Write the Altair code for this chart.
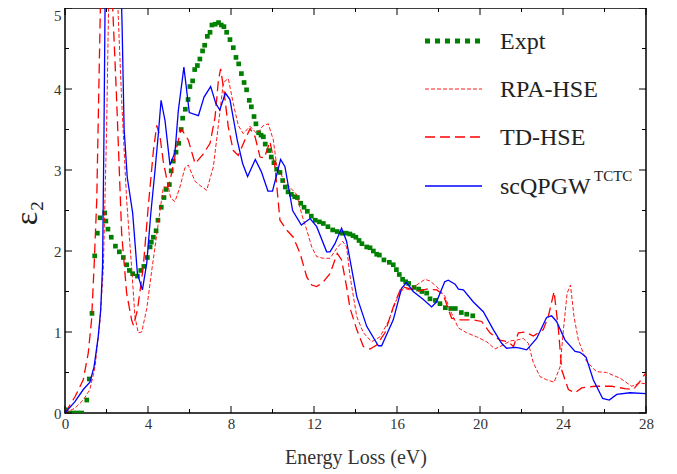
import altair as alt
import pandas as pd

# ---------------- data ----------------
expt_e = [0, 0.2, 0.4, 0.6, 0.8, 1.05, 1.17, 1.3, 1.43, 1.56, 1.69, 1.91, 1.97, 2.07, 2.23, 2.43, 2.62, 2.81,
          2.97, 3.1, 3.26, 3.49, 3.65, 3.8, 3.97, 4.1, 4.16, 4.26, 4.39, 4.48, 4.64, 4.77, 4.87, 5.03, 5.12,
          5.22, 5.35, 5.48, 5.6, 5.67, 5.8, 5.93, 6.02, 6.15, 6.25, 6.38, 6.5, 6.63, 6.73, 6.86, 6.99, 7.08,
          7.24, 7.4, 7.53, 7.66, 7.79, 7.95, 8.11, 8.24, 8.37, 8.5, 8.63, 8.75, 8.88, 8.98, 9.11, 9.2, 9.33,
          9.45, 9.56, 9.65, 9.82, 9.94, 10.07, 10.2, 10.36, 10.49, 10.62, 10.75, 10.91, 11.07, 11.2, 11.36,
          11.52, 11.68, 11.87, 12.06, 12.26, 12.45, 12.67, 12.9, 13.12, 13.35, 13.55, 13.73, 13.88, 14.02,
          14.17, 14.31, 14.54, 14.7, 14.86, 15.02, 15.15, 15.37, 15.63, 15.82, 15.97, 16.11, 16.27, 16.42,
          16.56, 16.82, 17.04, 17.2, 17.43, 17.59, 17.85, 18.07, 18.33, 18.59, 18.81, 19.1, 19.36, 19.65]
expt_v = [0.04, 0.0, 0.0, 0.0, 0.0, 0.16, 0.42, 1.23, 1.94, 2.22, 2.41, 2.47, 2.37, 2.27, 2.17, 2.06, 1.99, 1.92,
          1.83, 1.76, 1.72, 1.69, 1.76, 1.81, 1.92, 2.05, 2.11, 2.17, 2.25, 2.38, 2.54, 2.66, 2.76, 2.82, 2.99,
          3.11, 3.22, 3.33, 3.5, 3.64, 3.75, 3.87, 4.03, 4.1, 4.24, 4.29, 4.37, 4.47, 4.54, 4.65, 4.7, 4.79,
          4.8, 4.82, 4.79, 4.77, 4.7, 4.61, 4.51, 4.39, 4.31, 4.19, 4.08, 3.99, 3.86, 3.78, 3.66, 3.57, 3.46,
          3.43, 3.41, 3.32, 3.24, 3.16, 3.09, 3.01, 2.97, 2.87, 2.79, 2.73, 2.7, 2.67, 2.66, 2.59,
          2.54, 2.49, 2.43, 2.38, 2.36, 2.34, 2.3, 2.26, 2.24, 2.22, 2.22, 2.21, 2.19, 2.17,
          2.13, 2.09, 2.05, 2.04, 2.0, 1.96, 1.95, 1.89, 1.86, 1.83, 1.77, 1.71, 1.65, 1.62,
          1.6, 1.55, 1.53, 1.5, 1.48, 1.41, 1.39, 1.35, 1.3, 1.29, 1.29, 1.24, 1.22, 1.2]

rpa_e = [0, 0.48, 0.88, 1.2, 1.45, 1.69, 1.85, 2.0, 2.1, 2.25, 2.4, 2.55, 2.73, 2.97, 3.21, 3.37, 3.53, 3.7,
         3.94, 4.18, 4.42, 4.58, 4.74, 4.98, 5.1, 5.3, 5.54, 5.78, 5.94, 6.27, 6.5, 6.83, 7.15, 7.39, 7.63,
         7.87, 8.11, 8.35, 8.59, 8.92, 9.24, 9.56, 9.8, 10.04, 10.2, 10.6, 11.16, 11.4, 11.65, 11.89, 12.13,
         12.45, 12.77, 13.09, 13.38, 13.57, 13.73, 14.06, 14.38, 14.78, 15.18, 15.58, 15.98, 16.31, 16.63,
         16.95, 17.35, 17.59, 17.91, 18.31, 18.63, 18.96, 19.36, 19.84, 20.32, 20.72, 21.12, 21.45, 21.77,
         22.09, 22.33, 22.57, 22.89, 23.21, 23.57, 23.86, 24.02, 24.2, 24.36, 24.53, 24.74, 25.13, 25.61,
         26.1, 26.75, 27.31, 27.71, 28.0]
rpa_v = [0, 0.06, 0.16, 0.29, 0.57, 1.15, 1.8, 3.45, 5.0, 6.0, 5.8, 5.0, 3.86, 2.63, 1.8, 1.19, 0.99, 1.0,
         1.29, 1.76, 2.2, 2.5, 2.79, 2.79, 2.65, 2.61, 2.79, 3.03, 3.06, 2.86, 2.81, 2.75, 3.04, 3.55, 4.08,
         4.13, 3.82, 3.55, 3.45, 3.54, 3.45, 3.55, 3.57, 3.37, 3.06, 2.85, 2.7, 2.46, 2.26, 2.05, 1.93,
         1.91, 1.91, 2.03, 2.12, 2.05, 1.7, 1.19, 0.99, 0.88, 0.94, 1.13, 1.4, 1.54, 1.52,
         1.58, 1.65, 1.63, 1.56, 1.44, 1.23, 1.05, 0.99, 0.94, 0.88, 0.79, 0.84, 0.89, 0.9,
         0.92, 0.86, 0.62, 0.45, 0.41, 0.38, 0.57, 1.03, 1.48, 1.58, 1.19, 0.9, 0.64, 0.51,
         0.5, 0.43, 0.33, 0.37, 0.36]

td_e = [0, 0.48, 0.88, 1.12, 1.28, 1.4, 1.53, 1.65, 1.75, 1.95, 2.15, 2.3, 2.49, 2.73, 2.97, 3.21, 3.3, 3.49,
        3.77, 4.01, 4.26, 4.42, 4.58, 4.74, 4.98, 5.14, 5.38, 5.6, 5.94, 6.27, 6.67, 6.99, 7.23, 7.39, 7.5,
        7.66, 7.87, 8.11, 8.35, 8.67, 8.92, 9.16, 9.4, 9.6, 9.88, 10.12, 10.36, 10.68, 11.0, 11.33, 11.65,
        11.89, 12.13, 12.45, 12.77, 13.12, 13.33, 13.57, 13.73, 14.06, 14.38, 14.7, 15.02, 15.42, 15.82,
        16.22, 16.55, 16.95, 17.43, 17.91, 18.23, 18.63, 19.04, 19.68, 20.08, 20.48, 20.96, 21.36, 21.61,
        21.85, 22.17, 22.57, 23.05, 23.29, 23.57, 23.78, 23.94, 24.26, 24.58, 24.9, 25.54, 26.35, 26.99,
        27.39, 27.71, 28.0]
td_v = [0, 0.2, 0.41, 0.74, 1.15, 1.8, 2.63, 4.27, 5.6, 6.3, 5.8, 5.0, 3.86, 2.22, 1.48, 1.15, 1.08, 1.27,
        1.8, 2.54, 3.24, 3.55, 3.41, 3.1, 2.79, 2.96, 3.28, 3.51, 3.37, 3.08, 3.2, 3.33, 3.65, 4.1, 4.25,
        3.98, 3.53, 3.24, 3.18, 3.37, 3.51, 3.41, 3.16, 3.15, 3.35, 3.04, 2.38, 2.26, 2.17, 1.97, 1.68,
        1.58, 1.56, 1.62, 1.72, 1.97, 1.89, 1.56, 1.3, 1.03, 0.82, 0.79, 0.84, 0.99, 1.31,
        1.56, 1.54, 1.5, 1.53, 1.52, 1.46, 1.17, 1.15, 1.15, 1.13, 0.99, 0.9, 0.88, 0.82,
        0.99, 1.0, 0.95, 1.03, 1.19, 1.5, 1.03, 0.53, 0.29, 0.25, 0.31, 0.33, 0.33, 0.3,
        0.29, 0.39, 0.5]

gw_e = [0, 0.48, 0.88, 1.2, 1.4, 1.6, 1.72, 1.81, 1.88, 1.95, 2.1, 2.3, 2.5, 2.65, 2.75, 2.85, 3.0, 3.26,
        3.49, 3.73, 3.94, 4.13, 4.34, 4.5, 4.63, 4.82, 5.06, 5.3, 5.46, 5.73, 5.99, 6.43, 6.7, 7.02, 7.27,
        7.46, 7.73, 7.95, 8.3, 8.56, 8.8, 9.17, 9.46, 9.78, 10.0, 10.39, 10.6, 10.97, 11.39, 11.81, 12.13,
        12.61, 12.77, 13.01, 13.33, 13.57, 14.06, 14.54, 15.1, 15.26, 15.82, 16.22, 16.46, 16.78, 17.27,
        17.67, 17.9, 18.3, 18.47, 18.8, 18.96, 19.2, 19.68, 20.16, 20.64, 21.04, 21.28, 21.69, 21.93,
        22.25, 22.73, 23.21, 23.45, 23.69, 24.1, 24.58, 24.82, 25.11, 25.46, 25.91, 26.23, 26.59, 27.23, 28.0]
gw_v = [0, 0.14, 0.29, 0.38, 0.57, 0.94, 1.27, 1.81, 3.5, 5.6, 6.5, 6.8, 6.5, 5.8, 4.8, 3.5, 2.91, 2.47,
        1.72, 1.52, 1.85, 2.45, 3.0, 3.45, 3.86, 3.61, 3.06, 3.22, 3.73, 4.27, 3.71, 3.67, 3.9, 4.03, 3.82,
        3.74, 3.95, 3.87, 3.37, 3.08, 2.92, 3.13, 2.98, 2.74, 2.74, 3.13, 3.04, 2.5, 2.32, 2.4, 2.3,
        1.99, 1.99, 2.09, 2.28, 2.12, 1.44, 1.07, 0.83, 0.83, 1.15, 1.54, 1.61, 1.5, 1.4,
        1.31, 1.37, 1.62, 1.64, 1.59, 1.53, 1.52, 1.37, 1.25, 1.03, 0.86, 0.8, 0.81, 0.8,
        0.78, 0.92, 1.18, 1.2, 1.13, 0.9, 0.76, 0.75, 0.69, 0.41, 0.18, 0.16, 0.23, 0.25, 0.24]

series_names = ["Expt", "RPA-HSE", "TD-HSE", "scQPGW"]
superscript = "TCTC"
x_major = [0, 4, 8, 12, 16, 20, 24, 28]
x_minor = [2, 6, 10, 14, 18, 22, 26]
y_major = [0, 1, 2, 3, 4, 5]
y_minor = [0.5, 1.5, 2.5, 3.5, 4.5]

# ---------------- styling ----------------
W, H = 581, 405
FONT = "Liberation Serif, Times New Roman, serif"
GREEN, RED, BLUE = "#008000", "#ff0000", "#0000ff"
xscale = alt.Scale(domain=[0, 28], nice=False, zero=False)
yscale = alt.Scale(domain=[0, 5], nice=False, zero=False)

x_axis = alt.Axis(values=x_major, format="d", ticks=False, domain=False, grid=False,
                  labelFlush=False, labelOverlap=False,
                  labelFont=FONT, labelFontSize=15, labelColor="#333333", labelPadding=3,
                  title="Energy Loss (eV)", titleFont=FONT, titleFontSize=20, titleFontWeight="normal",
                  titleColor="#333333", titleY=50, titleBaseline="alphabetic")
y_axis = alt.Axis(values=y_major, format="d", ticks=False, domain=False, grid=False,
                  labelFlush=False, labelOverlap=False,
                  labelFont=FONT, labelFontSize=15, labelColor="#333333", labelPadding=4,
                  labelBaseline={"condition": {"test": "datum.value == 5", "value": "top"}, "value": "middle"},
                  title="ε₂", titleFont=FONT, titleFontSize=32, titleFontWeight="normal",
                  titleColor="#222222", titleAngle=270, titleX=-39, titleY=H / 2 + 2,
                  titleAlign="center", titleBaseline="middle")


def X(field):
    return alt.X(field, scale=xscale, axis=x_axis)


def Y(field):
    return alt.Y(field, scale=yscale, axis=y_axis)


def series_line(xs, ys, color, width, dash=None):
    df = pd.DataFrame({"e": xs, "v": ys, "i": list(range(len(xs)))})
    kw = dict(color=color, strokeWidth=width, clip=True)
    if dash:
        kw["strokeDash"] = dash
    return alt.Chart(df).mark_line(**kw).encode(x=X("e:Q"), y=Y("v:Q"), order="i:Q")


expt_layer = alt.Chart(pd.DataFrame({"e": expt_e, "v": expt_v})).mark_square(
    size=22, color=GREEN, opacity=1, clip=True).encode(x=X("e:Q"), y=Y("v:Q"))

rpa_layer = series_line(rpa_e, rpa_v, RED, 0.9, [4, 2])
td_layer = series_line(td_e, td_v, RED, 1.3, [10, 5])
gw_layer = series_line(gw_e, gw_v, BLUE, 1.3)


def tick_layers():
    layers = []
    for vals, ln in ((x_major, 7), (x_minor, 4)):
        df = pd.DataFrame({"e": vals})
        layers.append(alt.Chart(df).mark_rule(color="black", strokeWidth=1).encode(
            x=X("e:Q"), y=alt.value(H), y2=alt.value(H - ln)))
        layers.append(alt.Chart(df).mark_rule(color="black", strokeWidth=1).encode(
            x=X("e:Q"), y=alt.value(0), y2=alt.value(ln)))
    for vals, ln in ((y_major, 7), (y_minor, 4)):
        df = pd.DataFrame({"v": vals})
        layers.append(alt.Chart(df).mark_rule(color="black", strokeWidth=1).encode(
            y=Y("v:Q"), x=alt.value(0), x2=alt.value(ln)))
        layers.append(alt.Chart(df).mark_rule(color="black", strokeWidth=1).encode(
            y=Y("v:Q"), x=alt.value(W), x2=alt.value(W - ln)))
    return layers


# ---------------- manual legend (for the superscript) ----------------
leg_rows = [33, 81, 129, 178]
leg_styles = [
    dict(color=GREEN, strokeWidth=5, strokeDash=[5, 5], strokeCap="butt"),
    dict(color=RED, strokeWidth=0.9, strokeDash=[4, 2]),
    dict(color=RED, strokeWidth=1.3, strokeDash=[10, 5]),
    dict(color=BLUE, strokeWidth=1.3),
]
legend_layers = []
for name, yrow, st in zip(series_names, leg_rows, leg_styles):
    df = pd.DataFrame({"label": [name]})
    legend_layers.append(alt.Chart(df).mark_rule(**st).encode(
        x=alt.value(360), x2=alt.value(417), y=alt.value(yrow)))
    legend_layers.append(alt.Chart(df).mark_text(
        font=FONT, fontSize=24, color="#222222", align="left", baseline="middle").encode(
        x=alt.value(435), y=alt.value(yrow + 1), text="label:N"))
legend_layers.append(alt.Chart(pd.DataFrame({"label": [superscript]})).mark_text(
    font=FONT, fontSize=15, color="#222222", align="left", baseline="middle").encode(
    x=alt.value(529), y=alt.value(leg_rows[3] - 10), text="label:N"))

chart = alt.layer(
    expt_layer, rpa_layer, td_layer, gw_layer, *tick_layers(), *legend_layers
).properties(
    width=W, height=H,
    autosize=alt.AutoSizeParams(type="none"),
    padding={"left": 57, "top": 0, "right": 20, "bottom": 58},
    background="white",
).configure(
    font=FONT
).configure_axis(
    labelFont=FONT, titleFont=FONT
).configure_view(stroke="black", strokeWidth=1.5)

chart.save("out.html", embed_options={"renderer": "svg", "actions": False})
